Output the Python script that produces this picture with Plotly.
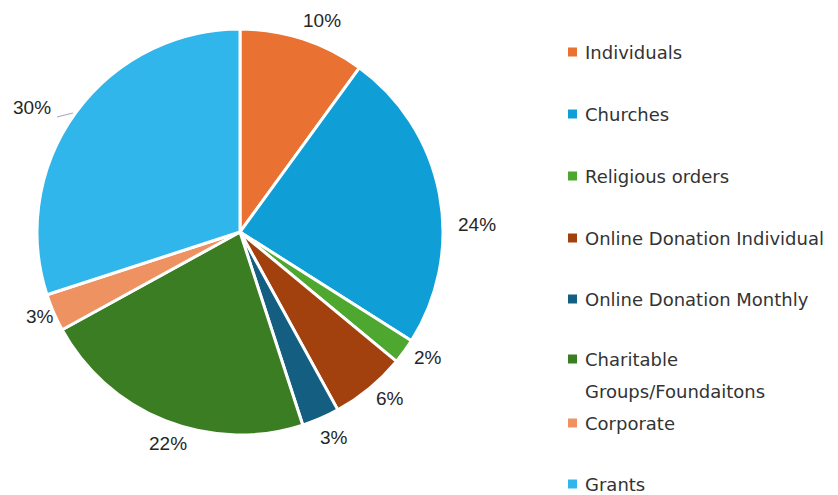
import plotly.graph_objects as go

# Funding sources and their share of total income (%)
categories = [
    "Individuals",
    "Churches",
    "Religious orders",
    "Online Donation Individual",
    "Online Donation Monthly",
    "Charitable Groups/Foundaitons",
    "Corporate",
    "Grants",
]
shares = [10, 24, 2, 6, 3, 22, 3, 30]
colors = [
    "#E97132",
    "#0F9ED5",
    "#4EA72E",
    "#A3410E",
    "#145E82",
    "#3A7D22",
    "#EE9262",
    "#30B6EB",
]
# legend captions, one list entry per drawn line
legend_labels = [
    ["Individuals"],
    ["Churches"],
    ["Religious orders"],
    ["Online Donation Individual"],
    ["Online Donation Monthly"],
    ["Charitable", "Groups/Foundaitons"],
    ["Corporate"],
    ["Grants"],
]

W, H = 838, 495
cx, cy, r = 240, 232, 203

# pixel placement of the data labels and legend rows
label_pos = [(322, 20), (477, 224), (428, 357), (390, 398),
             (334, 437), (168, 443), (40, 316), (32, 108)]
legend_rows = [52, 114, 176, 238, 299, 359, 423, 484]
legend_line_gap = 32


def px(x, y):
    return x / W, 1 - y / H


fig = go.Figure(
    go.Pie(
        labels=categories,
        values=shares,
        sort=False,
        direction="clockwise",
        rotation=0,
        marker=dict(colors=colors, line=dict(color="white", width=3)),
        textinfo="none",
        hoverinfo="label+percent",
        domain=dict(
            x=[(cx - r) / W, (cx + r) / W],
            y=[1 - (cy + r) / H, 1 - (cy - r) / H],
        ),
        showlegend=False,
    )
)

annotations = []
shapes = []

# percentage labels around the pie
for val, (lx, ly) in zip(shares, label_pos):
    x, y = px(lx, ly)
    annotations.append(
        dict(
            text=f"{val}%", xref="paper", yref="paper", x=x, y=y,
            xanchor="center", yanchor="middle", showarrow=False,
            font=dict(family="Liberation Sans, Arial, sans-serif", size=19, color="#262626"),
        )
    )

# short leader line for the Grants label
x0, y0 = px(57, 117)
x1, y1 = px(73, 113)
shapes.append(dict(type="line", xref="paper", yref="paper",
                   x0=x0, y0=y0, x1=x1, y1=y1,
                   line=dict(color="#A6A6A6", width=1)))

# hand-built legend
for lines, col, row in zip(legend_labels, colors, legend_rows):
    shapes.append(
        dict(
            type="rect", xref="paper", yref="paper",
            x0=568 / W, x1=577 / W,
            y0=1 - (row + 4.5) / H, y1=1 - (row - 4.5) / H,
            fillcolor=col, line=dict(width=0),
        )
    )
    for i, line in enumerate(lines):
        annotations.append(
            dict(
                text=line, xref="paper", yref="paper",
                x=583 / W, y=1 - (row + i * legend_line_gap) / H,
                xanchor="left", yanchor="middle", align="left",
                showarrow=False,
                font=dict(family="DejaVu Sans, sans-serif", size=18, color="#333333"),
            )
        )

fig.update_layout(
    width=W,
    height=H,
    margin=dict(l=0, r=0, t=0, b=0),
    paper_bgcolor="white",
    plot_bgcolor="white",
    annotations=annotations,
    shapes=shapes,
)

fig.write_html("out.html")
